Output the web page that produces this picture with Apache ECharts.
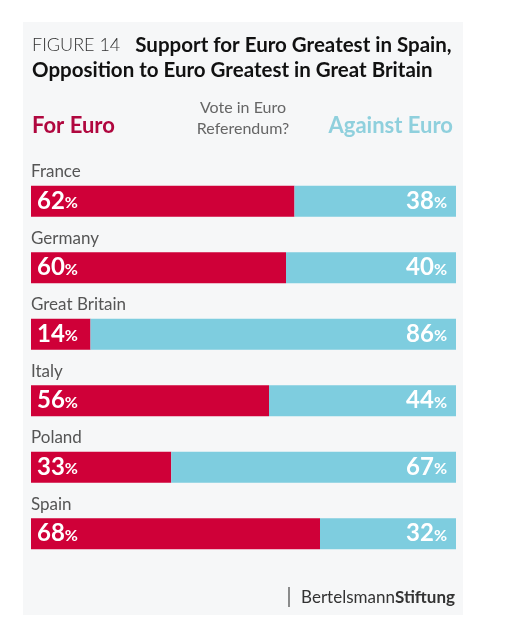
<!DOCTYPE html>
<html>
<head>
<meta charset="utf-8">
<script src="https://cdn.jsdelivr.net/npm/echarts@6/dist/echarts.min.js"></script>
<style>
  html, body { margin: 0; padding: 0; background: #fff; }
  #chart { width: 505px; height: 625px; }
</style>
</head>
<body>
<div id="chart"></div>
<script>
  var countries = ['France', 'Germany', 'Great Britain', 'Italy', 'Poland', 'Spain'];
  var forEuro = [62, 60, 14, 56, 33, 68];
  var againstEuro = [38, 40, 86, 44, 67, 32];

  var RED = '#cf0038';
  var BLUE = '#7ecddf';
  var FONT = 'Lato';

  var myChart = echarts.init(document.getElementById('chart'));

  function pctLabel(p) {
    return '{v|' + p.value + '}{p|%}';
  }
  var valRich = {
    v: { color: '#fff', fontFamily: FONT, fontWeight: 'bold', fontSize: 24 },
    p: { color: '#fff', fontFamily: FONT, fontWeight: 'bold', fontSize: 16, padding: [4, 0, 0, 0] }
  };

  var option = {
    backgroundColor: '#fff',
    animation: false,
    graphic: [
      { type: 'rect', z: -10, shape: { x: 23, y: 22, width: 440, height: 593 }, style: { fill: '#f6f7f8' } },
      { type: 'line', shape: { x1: 289, y1: 587, x2: 289, y2: 607 }, style: { stroke: '#444', lineWidth: 1.2 } }
    ],
    title: [
      {
        left: 32, top: 33, padding: 0,
        text: '{a|FIGURE 14}   {b|Support for Euro Greatest in Spain,}\n{b|Opposition to Euro Greatest in Great Britain}',
        textStyle: {
          rich: {
            a: { fontFamily: FONT, fontWeight: 300, fontSize: 18, color: '#333', lineHeight: 25 },
            b: { fontFamily: FONT, fontWeight: 'bold', fontSize: 20.5, color: '#111', lineHeight: 25 }
          }
        }
      },
      {
        left: 32, top: 115, padding: 0,
        text: 'For Euro',
        textStyle: { fontFamily: FONT, fontWeight: 'bold', fontSize: 22, color: '#b0073f' }
      },
      {
        left: 243, top: 97, textAlign: 'center', padding: 0,
        text: 'Vote in Euro\nReferendum?',
        textStyle: { fontFamily: FONT, fontWeight: 'normal', fontSize: 16, color: '#666', lineHeight: 21, align: 'center' }
      },
      {
        right: 52, top: 115, padding: 0,
        text: 'Against Euro',
        textStyle: { fontFamily: FONT, fontWeight: 'bold', fontSize: 22, color: '#8fd0dd' }
      },
      {
        right: 50, top: 589, padding: 0,
        text: '{a|Bertelsmann}{b|Stiftung}',
        textStyle: {
          rich: {
            a: { fontFamily: FONT, fontWeight: 'normal', fontSize: 17, color: '#333' },
            b: { fontFamily: FONT, fontWeight: 'bold', fontSize: 17, color: '#333' }
          }
        }
      }
    ],
    grid: { left: 31, right: 49, top: 168, height: 399, containLabel: false },
    xAxis: {
      type: 'value', min: 0, max: 100,
      show: false
    },
    yAxis: {
      type: 'category',
      data: countries,
      inverse: true,
      axisLine: { show: false },
      axisTick: { show: false },
      splitLine: { show: false },
      axisLabel: {
        inside: true,
        margin: 0,
        verticalAlign: 'bottom',
        padding: [0, 0, 21, 0],
        fontFamily: FONT,
        fontSize: 17,
        color: '#555'
      }
    },
    series: [
      {
        name: 'For Euro', type: 'bar', stack: 'vote',
        data: forEuro, barWidth: 31,
        itemStyle: { color: RED },
        label: { show: true, position: 'insideLeft', distance: 6, formatter: pctLabel, rich: valRich }
      },
      {
        name: 'Against Euro', type: 'bar', stack: 'vote',
        data: againstEuro, barWidth: 31,
        itemStyle: { color: BLUE },
        label: { show: true, position: 'insideRight', distance: 9, formatter: pctLabel, rich: valRich }
      }
    ]
  };
  myChart.setOption(option);
</script>
</body>
</html>
